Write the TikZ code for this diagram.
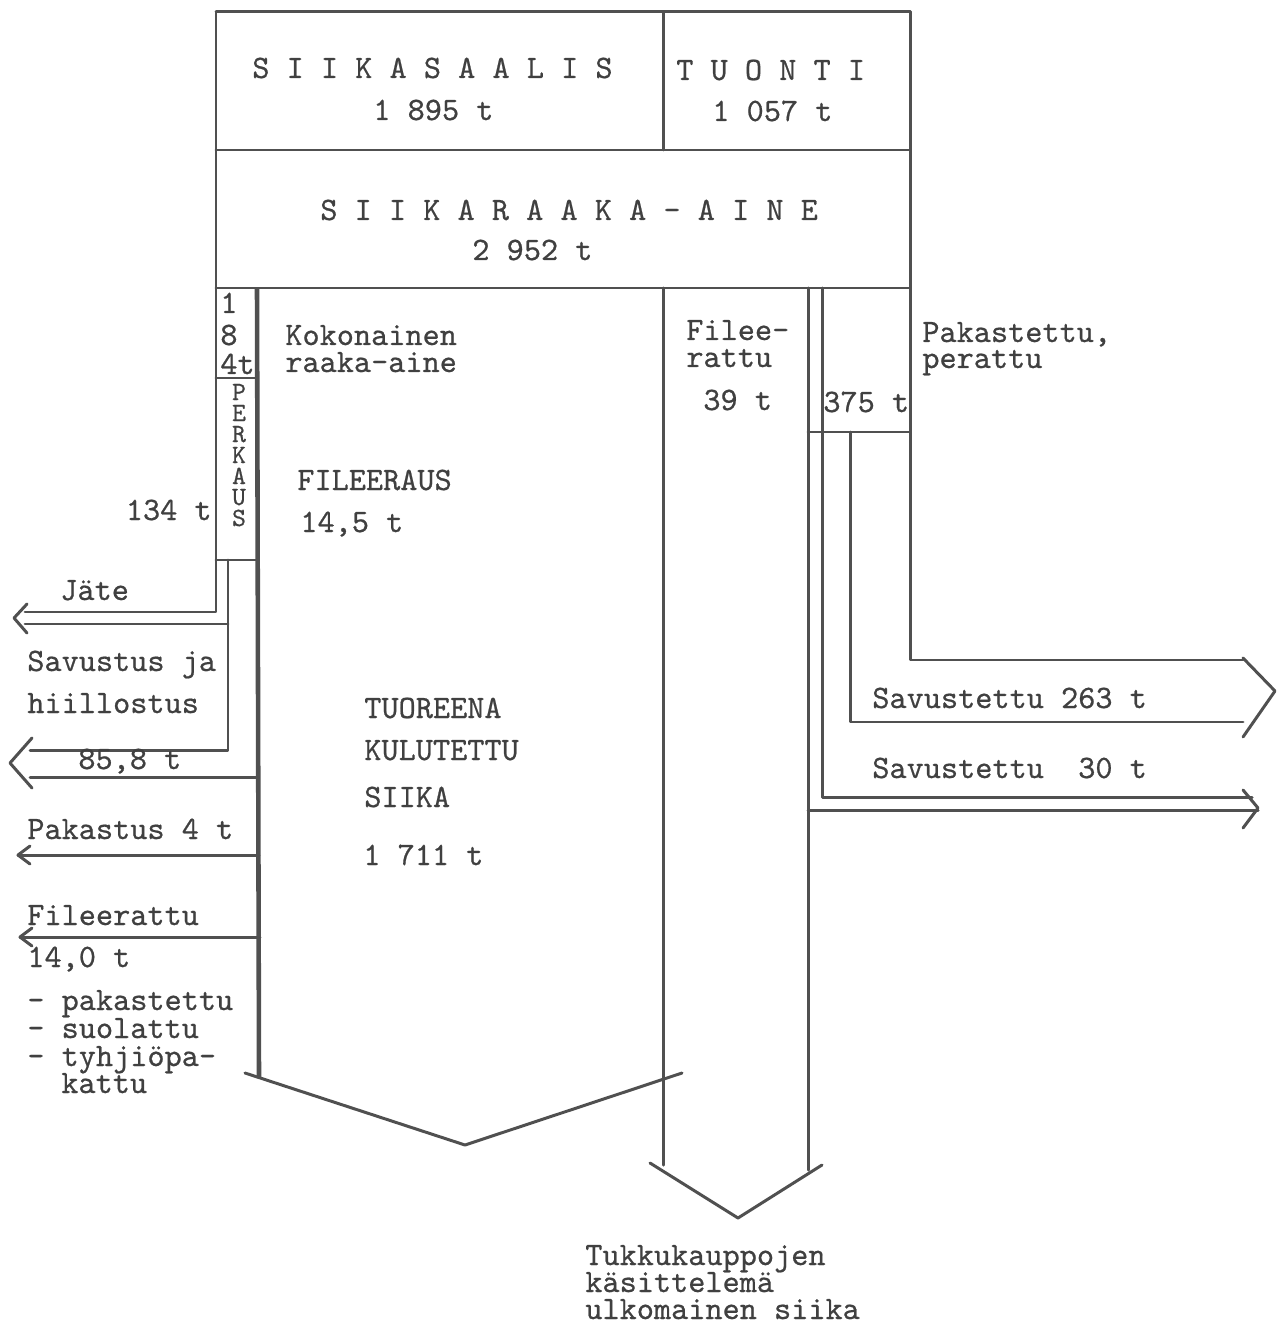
\documentclass[tikz,border=0pt]{standalone}
\usepackage{fontspec}
\newfontfamily\tw{lmmono10-regular.otf}[FakeBold=0.6]
\begin{document}
\begin{tikzpicture}[x=0.02cm,y=-0.02cm,
  ln/.style={draw=lnc,line width=1.7pt,line cap=round,line join=round},
  thk/.style={draw=lnc,line width=2.6pt},
  tx/.style={anchor=base west,inner sep=0pt,text=txc,font=\tw\fontsize{18.6pt}{20pt}\selectfont},
  txr/.style={tx,anchor=base east},
  pk/.style={anchor=base,inner sep=0pt,text=txc,font=\tw\fontsize{15pt}{16pt}\selectfont}]
\definecolor{lnc}{HTML}{505050}
\definecolor{txc}{HTML}{404040}
\useasboundingbox (0,0) rectangle (1280,1327);
% top boxes
\draw[ln] (216,12) -- (910,12) -- (910,660) -- (1243,660);
\draw[ln] (216,12) -- (216,612) -- (25,612);
\draw[ln] (216,150) -- (910,150);
\draw[ln] (216,288) -- (910,288);
\draw[ln] (663,12) -- (663,150);
% left small boxes
\draw[ln] (216,378) -- (256,378);
\draw[ln] (216,560) -- (256,560);
\draw[thk] (257,288) -- (259,1077);
% Jaete arrow
\draw[ln] (228,560) -- (228,750) -- (30,750);
\draw[ln] (228,624) -- (25,624);
\draw[ln] (27,604) -- (14,618) -- (27,633);
% Savustus arrow
\draw[ln] (258,777) -- (30,777);
\draw[ln] (32,738) -- (10,763) -- (32,788);
% Pakastus
\draw[ln] (259,855) -- (18,855);
\draw[ln] (30,846) -- (18,855) -- (30,864);
% Fileerattu
\draw[ln] (260,937) -- (20,937);
\draw[ln] (32,928) -- (20,937) -- (32,946);
% big chevron
\draw[ln] (245,1073) -- (465,1145) -- (682,1073);
% middle column
\draw[ln] (663,288) -- (663,1165);
\draw[ln] (808,288) -- (808,1170);
\draw[ln] (650,1163) -- (738,1218) -- (822,1165);
% right part
\draw[ln] (822,288) -- (822,797) -- (1252,797);
\draw[ln] (808,810) -- (1258,810);
\draw[ln] (1243,790) -- (1258,808) -- (1243,828);
\draw[ln] (808,432) -- (910,432);
\draw[ln] (850,432) -- (850,722) -- (1243,722);
\draw[ln] (1243,658) -- (1275,691) -- (1243,737);
% texts
\node[tx] (t1) at (252,78) {S I I K A S A A L I S};
\node[tx] (t2) at (373,120) {1 895 t};
\node[tx] (t3) at (676,80) {T U O N T I};
\node[tx] (t4) at (712,121) {1 057 t};
\node[tx] (t5) at (320,220) {S I I K A R A A K A - A I N E};
\node[tx] (t6) at (472,260) {2 952 t};
\node[tx] (t7) at (220,313) {1};
\node[tx] (t8) at (220,345) {8};
\node[tx] (t9) at (220,374) {4t};
\node[pk] (p1) at (239,400) {P};
\node[pk] (p2) at (239,421) {E};
\node[pk] (p3) at (239,442) {R};
\node[pk] (p4) at (239,463) {K};
\node[pk] (p5) at (239,484) {A};
\node[pk] (p6) at (239,505) {U};
\node[pk] (p7) at (239,526) {S};
\node[txr] (t10) at (212,520) {134 t};
\node[tx] (t11) at (285,345) {Kokonainen};
\node[tx] (t12) at (285,372) {raaka-aine};
\node[tx] (t13) at (686,340) {Filee-};
\node[tx] (t14) at (686,367) {rattu};
\node[tx] (t15) at (703,410) {39 t};
\node[tx] (t16) at (922,342) {Pakastettu,};
\node[tx] (t17) at (922,368) {perattu};
\node[tx] (t18) at (823,412) {375 t};
\node[tx] (t19) at (297,490) {FILEERAUS};
\node[tx] (t20) at (300,532) {14,5 t};
\node[tx] (t21) at (364,718) {TUOREENA};
\node[tx] (t22) at (364,760) {KULUTETTU};
\node[tx] (t23) at (364,807) {SIIKA};
\node[tx] (t24) at (363,865) {1 711 t};
\node[tx] (t25) at (872,708) {Savustettu 263 t};
\node[tx] (t26) at (872,778) {Savustettu\ \ 30 t};
\node[tx] (t27) at (60,600) {Jäte};
\node[tx] (t28) at (27,671) {Savustus ja};
\node[tx] (t29) at (27,713) {hiillostus};
\node[tx] (t30) at (78,769) {85,8 t};
\node[tx] (t31) at (27,839) {Pakastus 4 t};
\node[tx] (t32) at (27,925) {Fileerattu};
\node[tx] (t33) at (27,967) {14,0 t};
\node[tx] (t34) at (27,1010) {- pakastettu};
\node[tx] (t35) at (27,1038) {- suolattu};
\node[tx] (t36) at (27,1066) {- tyhjiöpa-};
\node[tx] (t37) at (61,1093) {kattu};
\node[tx] (t38) at (585,1265) {Tukkukauppojen};
\node[tx] (t39) at (585,1292) {käsittelemä};
\node[tx] (t40) at (585,1319) {ulkomainen siika};
\end{tikzpicture}
\end{document}
